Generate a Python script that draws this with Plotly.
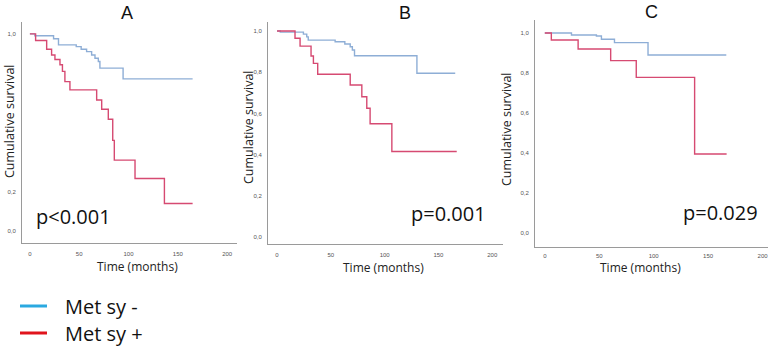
import plotly.graph_objects as go

# ---------------- data ----------------
A_blue_t = [0, 5, 24, 29, 47, 52, 57.5, 62.6, 66, 69.4, 71, 94.5, 165]
A_blue_s = [1.0, 0.99, 0.975, 0.944, 0.935, 0.922, 0.91, 0.893, 0.876, 0.86, 0.826, 0.772, 0.772]
A_red_t = [0, 5.8, 17, 22, 25.4, 30.5, 33, 35.5, 40.6, 67.7, 72.8, 79.5, 84, 85.6, 106.6, 136.4, 165]
A_red_s = [1.0, 0.966, 0.922, 0.893, 0.87, 0.843, 0.81, 0.758, 0.716, 0.665, 0.618, 0.567, 0.46, 0.36, 0.267, 0.14, 0.14]

B_blue_t = [0, 3, 24.5, 27.6, 29, 54, 63, 68, 70, 72, 130, 165.6]
B_blue_s = [1.0, 0.995, 0.985, 0.972, 0.956, 0.948, 0.937, 0.924, 0.908, 0.88, 0.795, 0.795]
B_red_t = [0, 16.7, 21.4, 31.6, 33.8, 37.8, 68, 78.8, 83.4, 86.5, 106.7, 167]
B_red_s = [1.0, 0.965, 0.927, 0.879, 0.843, 0.79, 0.738, 0.681, 0.625, 0.55, 0.415, 0.415]

C_blue_t = [0, 24.5, 47.4, 52, 64, 94.8, 166.7]
C_blue_s = [1.0, 0.99, 0.985, 0.969, 0.952, 0.89, 0.89]
C_red_t = [0, 6, 30.6, 60.5, 84, 137.6, 167]
C_red_s = [1.0, 0.965, 0.92, 0.862, 0.778, 0.395, 0.395]

panel_titles = ["A", "B", "C"]
p_values = ["p<0.001", "p=0.001", "p=0.029"]
x_ticks = [0, 50, 100, 150, 200]
y_ticks_full = [0.0, 0.2, 0.4, 0.6, 0.8, 1.0]
y_ticks_A = [0.0, 0.2, 1.0]
legend_labels = ["Met sy -", "Met sy +"]

CURVE_BLUE = "#8eaed6"
CURVE_RED = "#d64a72"
LEG_BLUE = "#2aa9e0"
LEG_RED = "#e0141c"

W, H = 777, 349
def px(x):
    return x / W
def py(y):
    return 1 - y / H

fig = go.Figure()

panels = [
    dict(bt=A_blue_t, bs=A_blue_s, rt=A_red_t, rs=A_red_s, yt=y_ticks_A, xs=5,
         xd=[px(22), px(237)], yd=[py(243), py(22)], xr=[-8, 210], yr=[-0.06, 1.06]),
    dict(bt=B_blue_t, bs=B_blue_s, rt=B_red_t, rs=B_red_s, yt=y_ticks_full, xs=5,
         xd=[px(268), px(503)], yd=[py(244), py(22)], xr=[-8.4, 210], yr=[-0.034, 1.044]),
    dict(bt=C_blue_t, bs=C_blue_s, rt=C_red_t, rs=C_red_s, yt=y_ticks_full, xs=3,
         xd=[px(535), px(768)], yd=[py(247), py(20)], xr=[-9, 205], yr=[-0.07, 1.065]),
]

tickfont = dict(family="Liberation Sans", size=6, color="#555555")
layout_axes = {}
for i, p in enumerate(panels):
    n = "" if i == 0 else str(i + 1)
    xa, ya = "x" + n, "y" + n
    fig.add_trace(go.Scatter(x=p["bt"], y=p["bs"], mode="lines", line_shape="hv",
                             line=dict(color=CURVE_BLUE, width=1.4),
                             xaxis=xa, yaxis=ya, showlegend=False))
    fig.add_trace(go.Scatter(x=p["rt"], y=p["rs"], mode="lines", line_shape="hv",
                             line=dict(color=CURVE_RED, width=1.4),
                             xaxis=xa, yaxis=ya, showlegend=False))
    layout_axes["xaxis" + n] = dict(domain=p["xd"], range=p["xr"], anchor=ya,
                                    showline=True, linecolor="#9a9a9a", linewidth=1,
                                    showgrid=False, zeroline=False, tickvals=x_ticks,
                                    ticktext=[str(v) for v in x_ticks], tickfont=tickfont,
                                    ticks="", ticklabelstandoff=p["xs"])
    layout_axes["yaxis" + n] = dict(domain=p["yd"], range=p["yr"], anchor=xa,
                                    showline=True, linecolor="#9a9a9a", linewidth=1,
                                    showgrid=False, zeroline=False, tickvals=p["yt"],
                                    ticktext=[("%.1f" % v).replace(".", ",") for v in p["yt"]],
                                    tickfont=tickfont, ticks="", ticklabelstandoff=4)

fig.update_layout(**layout_axes)

ann = []
def add_text(text, x, y, size, family="Open Sans", angle=0, xanchor="center", color="#222"):
    ann.append(dict(text=text, x=px(x), y=py(y), xref="paper", yref="paper",
                    xanchor=xanchor, yanchor="middle", showarrow=False, textangle=angle,
                    font=dict(family=family, size=size, color=color)))

title_pos = [(127, 13), (405, 13), (651, 12)]
for t, (x, y) in zip(panel_titles, title_pos):
    add_text(t, x, y, 18, family="Liberation Sans", color="#111")
ylab_pos = [(10, 122), (249, 128), (507, 130)]
for (x, y) in ylab_pos:
    add_text("Cumulative survival", x, y, 12.5, angle=-90)
xlab_pos = [(137, 266), (383, 267), (640, 267)]
for (x, y) in xlab_pos:
    add_text("Time (months)", x, y, 12)
pv_pos = [(73, 216), (448, 213), (720, 212)]
for t, (x, y) in zip(p_values, pv_pos):
    add_text(t, x, y, 20, color="#111")
leg_y = [306, 333]
for t, y in zip(legend_labels, leg_y):
    add_text(t, 63, y, 20, xanchor="left", color="#111")

shapes = []
for c, y in zip([LEG_BLUE, LEG_RED], leg_y):
    shapes.append(dict(type="line", xref="paper", yref="paper", x0=px(20), x1=px(47),
                       y0=py(y), y1=py(y), line=dict(color=c, width=3)))

fig.update_layout(width=W, height=H, margin=dict(l=0, r=0, t=0, b=0),
                  paper_bgcolor="white", plot_bgcolor="white",
                  annotations=ann, shapes=shapes, showlegend=False)

fig.write_html("out.html", config={"displayModeBar": False},
               post_script="document.body.style.margin='0';document.body.style.overflow='hidden';")
